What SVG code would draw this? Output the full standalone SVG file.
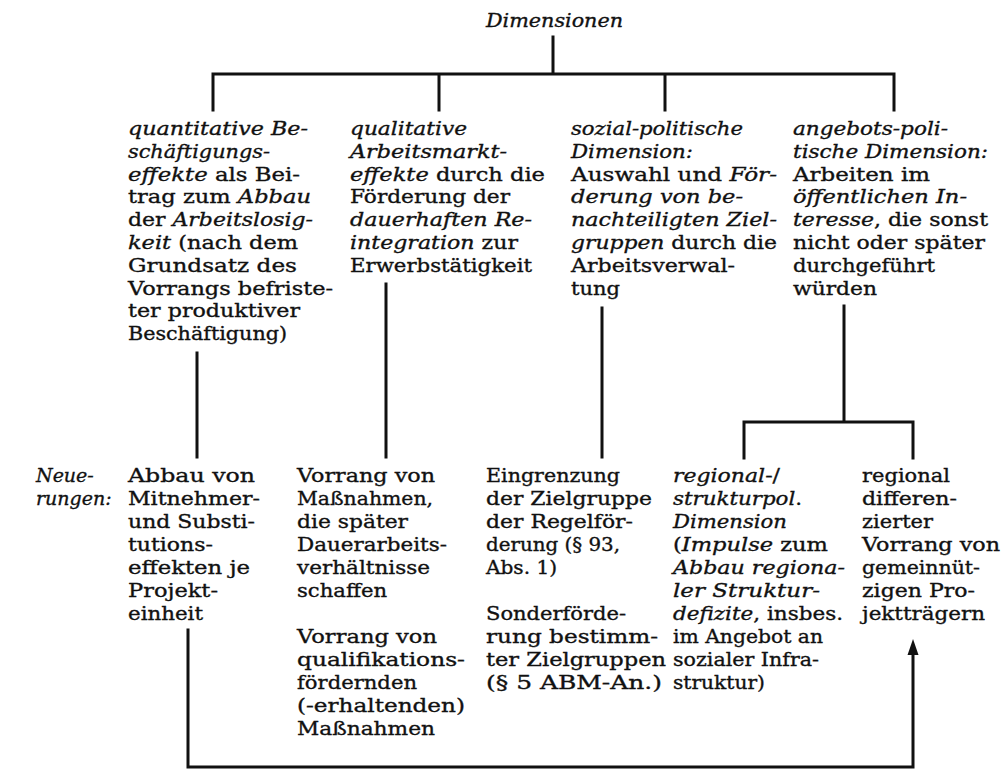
<svg xmlns="http://www.w3.org/2000/svg" width="1002" height="776" viewBox="0 0 1002 776">
<style>
text{font-family:"DejaVu Serif","Liberation Serif",serif;font-size:19px;fill:#111;stroke:#111;stroke-width:0.35}
.i{font-style:italic}
.c{fill:none;stroke:#111;stroke-width:3;stroke-linecap:square}
.ah{fill:#111;stroke:none}
</style>
<rect width="1002" height="776" fill="#fff"/>
<g id="connectors">
<path class="c" d="M553,37 V74 M213,110 V74 H894 V110 M439,74 V110 M665,74 V110"/>
<path class="c" d="M197,353 V457 M386,284 V457 M602,308 V457"/>
<path class="c" d="M844,306 V422 M744,458 V422 H913 V458"/>
<path class="c" d="M188,630 V767 H913 V652"/>
<path class="ah" d="M913,639 L918.5,655 L907.5,655 Z"/>
</g>
<g id="dimensionen">
<text class="i" x="486" y="27" textLength="137" lengthAdjust="spacingAndGlyphs">Dimensionen</text>
</g>
<g id="quantitativ">
<text x="128" y="135" textLength="180" lengthAdjust="spacingAndGlyphs"><tspan class="i">quantitative Be-</tspan></text>
<text x="128" y="157.8" textLength="142" lengthAdjust="spacingAndGlyphs"><tspan class="i">schäftigungs-</tspan></text>
<text x="128" y="180.6" textLength="172" lengthAdjust="spacingAndGlyphs"><tspan class="i">effekte</tspan> als Bei-</text>
<text x="128" y="203.4" textLength="183" lengthAdjust="spacingAndGlyphs">trag zum <tspan class="i">Abbau</tspan></text>
<text x="128" y="226.2" textLength="185" lengthAdjust="spacingAndGlyphs">der <tspan class="i">Arbeitslosig-</tspan></text>
<text x="128" y="249" textLength="170" lengthAdjust="spacingAndGlyphs"><tspan class="i">keit</tspan> (nach dem</text>
<text x="128" y="271.8" textLength="169" lengthAdjust="spacingAndGlyphs">Grundsatz  des</text>
<text x="128" y="294.6" textLength="205" lengthAdjust="spacingAndGlyphs">Vorrangs befriste-</text>
<text x="128" y="317.4" textLength="172" lengthAdjust="spacingAndGlyphs">ter produktiver</text>
<text x="128" y="340.2" textLength="159" lengthAdjust="spacingAndGlyphs">Beschäftigung)</text>
</g>
<g id="qualitativ">
<text class="i" x="350" y="135" textLength="117" lengthAdjust="spacingAndGlyphs">qualitative</text>
<text class="i" x="350" y="157.8" textLength="157" lengthAdjust="spacingAndGlyphs">Arbeitsmarkt-</text>
<text x="350" y="180.6" textLength="195" lengthAdjust="spacingAndGlyphs"><tspan class="i">effekte</tspan> durch die</text>
<text x="350" y="203.4" textLength="160" lengthAdjust="spacingAndGlyphs">Förderung der</text>
<text class="i" x="350" y="226.2" textLength="182" lengthAdjust="spacingAndGlyphs">dauerhaften Re-</text>
<text x="350" y="249" textLength="168" lengthAdjust="spacingAndGlyphs"><tspan class="i">integration</tspan> zur</text>
<text x="350" y="271.8" textLength="182" lengthAdjust="spacingAndGlyphs">Erwerbstätigkeit</text>
</g>
<g id="sozialpolitisch">
<text class="i" x="571" y="135" textLength="172" lengthAdjust="spacingAndGlyphs">sozial-politische</text>
<text class="i" x="571" y="157.8" textLength="122" lengthAdjust="spacingAndGlyphs">Dimension:</text>
<text x="571" y="180.6" textLength="206" lengthAdjust="spacingAndGlyphs">Auswahl und <tspan class="i">För-</tspan></text>
<text class="i" x="571" y="203.4" textLength="172" lengthAdjust="spacingAndGlyphs">derung von be-</text>
<text class="i" x="571" y="226.2" textLength="206" lengthAdjust="spacingAndGlyphs">nachteiligten Ziel-</text>
<text x="571" y="249" textLength="206" lengthAdjust="spacingAndGlyphs"><tspan class="i">gruppen</tspan> durch die</text>
<text x="571" y="271.8" textLength="164" lengthAdjust="spacingAndGlyphs">Arbeitsverwal-</text>
<text x="571" y="294.6" textLength="49" lengthAdjust="spacingAndGlyphs">tung</text>
</g>
<g id="angebotspolitisch">
<text class="i" x="793" y="135" textLength="155" lengthAdjust="spacingAndGlyphs">angebots-poli-</text>
<text class="i" x="793" y="157.8" textLength="195" lengthAdjust="spacingAndGlyphs">tische Dimension:</text>
<text x="793" y="180.6" textLength="137" lengthAdjust="spacingAndGlyphs">Arbeiten im</text>
<text class="i" x="793" y="203.4" textLength="174" lengthAdjust="spacingAndGlyphs">öffentlichen In-</text>
<text x="793" y="226.2" textLength="195" lengthAdjust="spacingAndGlyphs"><tspan class="i">teresse</tspan>, die sonst</text>
<text x="793" y="249" textLength="192" lengthAdjust="spacingAndGlyphs">nicht oder später</text>
<text x="793" y="271.8" textLength="142" lengthAdjust="spacingAndGlyphs">durchgeführt</text>
<text x="793" y="294.6" textLength="84" lengthAdjust="spacingAndGlyphs">würden</text>
</g>
<g id="neuerungen">
<text class="i" x="36" y="482">Neue-</text>
<text class="i" x="36" y="505">rungen:</text>
</g>
<g id="mitnehmer">
<text x="128" y="482" textLength="127" lengthAdjust="spacingAndGlyphs">Abbau  von</text>
<text x="128" y="505" textLength="132" lengthAdjust="spacingAndGlyphs">Mitnehmer-</text>
<text x="128" y="528" textLength="127" lengthAdjust="spacingAndGlyphs">und Substi-</text>
<text x="128" y="551" textLength="85" lengthAdjust="spacingAndGlyphs">tutions-</text>
<text x="128" y="574" textLength="122" lengthAdjust="spacingAndGlyphs">effekten je</text>
<text x="128" y="597" textLength="90" lengthAdjust="spacingAndGlyphs">Projekt-</text>
<text x="128" y="620" textLength="75" lengthAdjust="spacingAndGlyphs">einheit</text>
</g>
<g id="dauerarbeit">
<text x="297" y="482" textLength="138" lengthAdjust="spacingAndGlyphs">Vorrang von</text>
<text x="297" y="505" textLength="136" lengthAdjust="spacingAndGlyphs">Maßnahmen,</text>
<text x="297" y="528" textLength="111" lengthAdjust="spacingAndGlyphs">die später</text>
<text x="297" y="551" textLength="150" lengthAdjust="spacingAndGlyphs">Dauerarbeits-</text>
<text x="297" y="574" textLength="133" lengthAdjust="spacingAndGlyphs">verhältnisse</text>
<text x="297" y="597" textLength="90" lengthAdjust="spacingAndGlyphs">schaffen</text>
<text x="297" y="643" textLength="140" lengthAdjust="spacingAndGlyphs">Vorrang von</text>
<text x="297" y="666" textLength="168" lengthAdjust="spacingAndGlyphs">qualifikations-</text>
<text x="297" y="689" textLength="120" lengthAdjust="spacingAndGlyphs">fördernden</text>
<text x="297" y="712" textLength="168" lengthAdjust="spacingAndGlyphs">(-erhaltenden)</text>
<text x="297" y="735" textLength="138" lengthAdjust="spacingAndGlyphs">Maßnahmen</text>
</g>
<g id="zielgruppe">
<text x="486" y="482" textLength="134" lengthAdjust="spacingAndGlyphs">Eingrenzung</text>
<text x="486" y="505" textLength="166" lengthAdjust="spacingAndGlyphs">der  Zielgruppe</text>
<text x="486" y="528" textLength="147" lengthAdjust="spacingAndGlyphs">der Regelför-</text>
<text x="486" y="551" textLength="134" lengthAdjust="spacingAndGlyphs">derung (§ 93,</text>
<text x="486" y="574" textLength="71" lengthAdjust="spacingAndGlyphs">Abs. 1)</text>
<text x="486" y="620" textLength="140" lengthAdjust="spacingAndGlyphs">Sonderförde-</text>
<text x="486" y="643" textLength="172" lengthAdjust="spacingAndGlyphs">rung bestimm-</text>
<text x="486" y="666" textLength="180" lengthAdjust="spacingAndGlyphs">ter Zielgruppen</text>
<text x="486" y="689" textLength="176" lengthAdjust="spacingAndGlyphs">(§ 5 ABM-An.)</text>
</g>
<g id="regionalstruktur">
<text x="673" y="482" textLength="107" lengthAdjust="spacingAndGlyphs"><tspan class="i">regional</tspan>-/</text>
<text x="673" y="505" textLength="129" lengthAdjust="spacingAndGlyphs"><tspan class="i">strukturpol</tspan>.</text>
<text class="i" x="673" y="528" textLength="114" lengthAdjust="spacingAndGlyphs">Dimension</text>
<text x="673" y="551" textLength="155" lengthAdjust="spacingAndGlyphs">(<tspan class="i">Impulse</tspan>  zum</text>
<text class="i" x="673" y="574" textLength="172" lengthAdjust="spacingAndGlyphs">Abbau regiona-</text>
<text class="i" x="673" y="597" textLength="147" lengthAdjust="spacingAndGlyphs">ler  Struktur-</text>
<text x="673" y="620" textLength="170" lengthAdjust="spacingAndGlyphs"><tspan class="i">defizite</tspan>, insbes.</text>
<text x="673" y="643" textLength="150" lengthAdjust="spacingAndGlyphs">im Angebot an</text>
<text x="673" y="666" textLength="146" lengthAdjust="spacingAndGlyphs">sozialer Infra-</text>
<text x="673" y="689" textLength="92" lengthAdjust="spacingAndGlyphs">struktur)</text>
</g>
<g id="projekttraeger">
<text x="862" y="482" textLength="88" lengthAdjust="spacingAndGlyphs">regional</text>
<text x="862" y="505" textLength="95" lengthAdjust="spacingAndGlyphs">differen-</text>
<text x="862" y="528" textLength="71" lengthAdjust="spacingAndGlyphs">zierter</text>
<text x="862" y="551" textLength="138" lengthAdjust="spacingAndGlyphs">Vorrang von</text>
<text x="862" y="574" textLength="118" lengthAdjust="spacingAndGlyphs">gemeinnüt-</text>
<text x="862" y="597" textLength="113" lengthAdjust="spacingAndGlyphs">zigen Pro-</text>
<text x="862" y="620" textLength="123" lengthAdjust="spacingAndGlyphs">jektträgern</text>
</g>
</svg>
